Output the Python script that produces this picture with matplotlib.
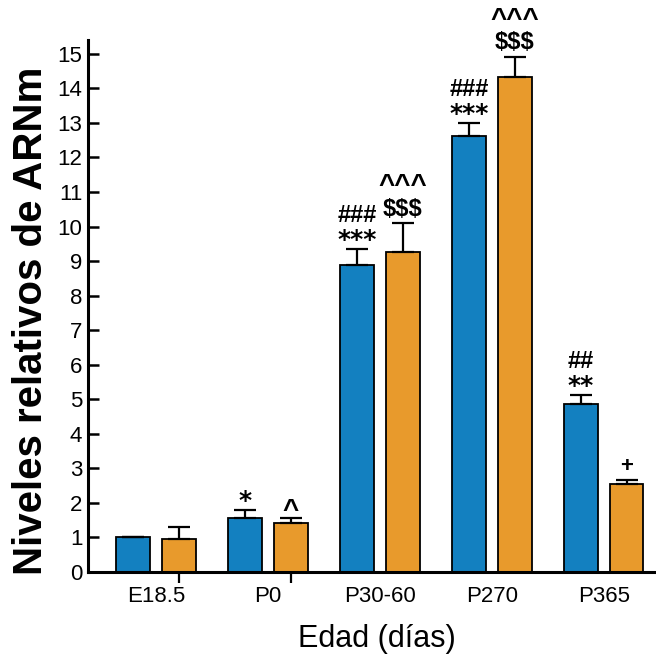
import matplotlib
matplotlib.use("Agg")
import matplotlib.pyplot as plt
import numpy as np

plt.rcParams['font.family'] = ['Liberation Sans', 'DejaVu Sans']

# Expression data (mean and upper SEM) per age group
ages = ["E18.5", "P0", "P30-60", "P270", "P365"]
serie_a = [1.0, 1.57, 8.9, 12.63, 4.85]
err_a = [0.0, 0.23, 0.45, 0.37, 0.27]
serie_b = [0.97, 1.41, 9.25, 14.32, 2.55]
err_b = [0.33, 0.16, 0.85, 0.60, 0.12]

# Significance marks: (lower line, upper line)
marks_a = [("", ""), ("*", ""), ("***", "###"), ("***", "###"), ("**", "##")]
marks_b = [("", ""), ("^", ""), ("$$$", "^^^"), ("$$$", "^^^"), ("+", "")]

yticks = list(range(0, 16))

blue = "#1380c0"
orange = "#e89a2c"

fig = plt.figure(figsize=(6.56, 6.61), dpi=100)
ax = fig.add_axes([0.134, 0.1346, 0.864, 0.805])

x = np.arange(len(ages))
w = 0.30
off = 0.205

err_kw = dict(ecolor="black", elinewidth=1.6, capsize=8, capthick=1.6)
ax.bar(x - off, serie_a, w, color=blue, edgecolor="black", linewidth=1.3,
       yerr=[np.zeros(len(err_a)), err_a], error_kw=err_kw, zorder=2)
ax.bar(x + off, serie_b, w, color=orange, edgecolor="black", linewidth=1.3,
       yerr=[np.zeros(len(err_b)), err_b], error_kw=err_kw, zorder=2)

# glyph -> (font family, size, offset in points above the error cap)
lower_style = {"*": (['DejaVu Sans'], 18, 6.5),
               "$": (['Liberation Sans'], 17, 10.0),
               "^": (['Liberation Sans'], 20, 5.0),
               "+": (['Liberation Sans'], 16, 9.5)}
upper_style = {"#": (['Liberation Sans'], 17, 24.0),
               "^": (['Liberation Sans'], 20, 26.5)}


def put_marks(xs, vals, errs, marks):
    for xi, v, e, (lo, hi) in zip(xs, vals, errs, marks):
        top = v + e
        for txt, styles in ((lo, lower_style), (hi, upper_style)):
            if not txt:
                continue
            fam, size, dy = styles[txt[0]]
            ax.annotate(txt, (xi, top), xytext=(0, dy), textcoords="offset points",
                        ha="center", va="center", fontsize=size,
                        fontweight="bold", family=fam)


put_marks(x - off, serie_a, err_a, marks_a)
put_marks(x + off, serie_b, err_b, marks_b)

ax.set_xlim(-0.607, 4.455)
ax.set_ylim(0, 15.4)
ax.set_yticks(yticks)
ax.set_yticklabels([str(t) for t in yticks], fontsize=16)
ax.tick_params(axis="y", direction="in", length=8, width=1.8, pad=4)

ax.set_xticks(x)
ax.set_xticklabels(ages, fontsize=16)
ax.tick_params(axis="x", which="major", length=0, pad=10)
ax.set_xticks([x[0] + off, x[1] + off], minor=True)
ax.tick_params(axis="x", which="minor", direction="out", length=8, width=1.6)

for side in ("top", "right"):
    ax.spines[side].set_visible(False)
for side in ("left", "bottom"):
    ax.spines[side].set_linewidth(2.2)

ax.set_ylabel("Niveles relativos de ARNm", fontsize=29, fontweight="bold")
ax.yaxis.set_label_coords(-0.066, 0.472)
ax.set_xlabel("Edad (días)", fontsize=22)
ax.xaxis.set_label_coords(0.51, -0.097)

fig.savefig("out.png", dpi=100)
